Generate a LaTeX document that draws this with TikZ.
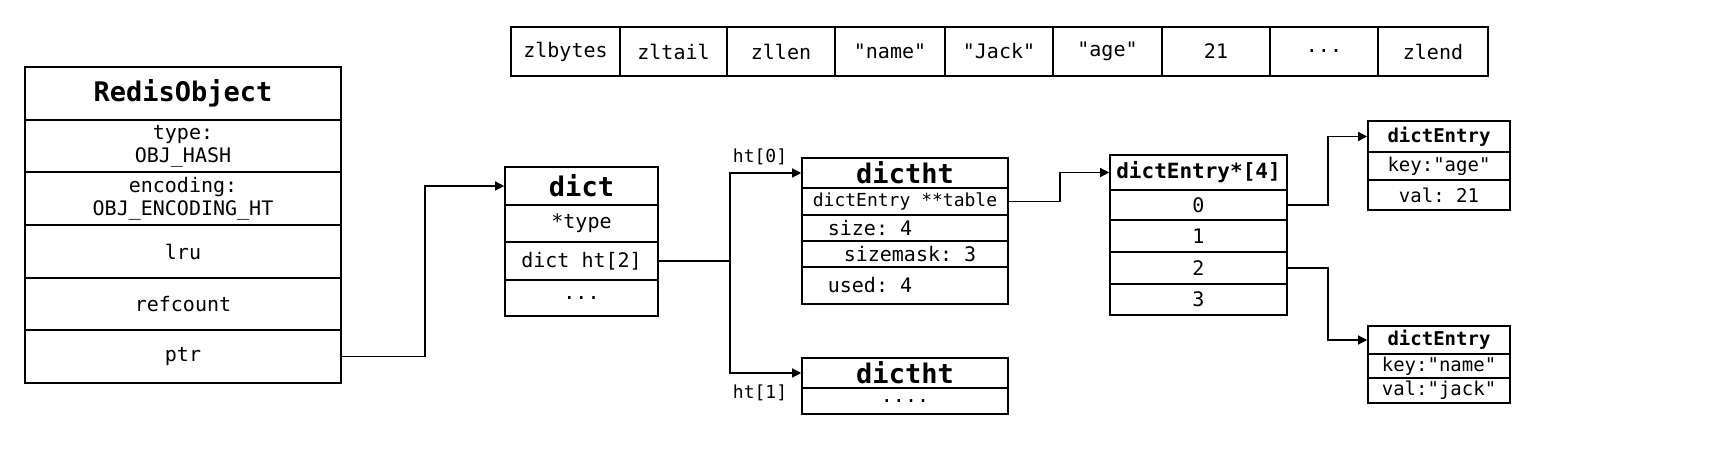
\documentclass[tikz,border=0pt]{standalone}
\usepackage{fontspec}
\setmonofont{DejaVu Sans Mono}
\usetikzlibrary{arrows.meta}
\newcommand{\cellbox}[6]{%
  \node[cell,minimum width={(#4-#2)*1pt},minimum height={(#5-#3)*1pt}] (#1) at ({(#2+#4)/2},{(#3+#5)/2}) {#6};}
\begin{document}
\begin{tikzpicture}[x=1pt,y=-1pt,
  cell/.style={draw,line width=1.6pt,inner sep=0pt,font=\ttfamily\fontsize{20}{23}\selectfont,align=center},
  link/.style={line width=1.3pt,-{Triangle[length=9pt,width=9pt]}},
  wire/.style={line width=1.3pt}]
\useasboundingbox (0,0) rectangle (1711,465);

% ziplist
\cellbox{z1}{511}{27}{620}{76}{zlbytes}
\cellbox{z2}{620}{27}{727}{76}{zltail}
\cellbox{z3}{727}{27}{835}{76}{zllen}
\cellbox{z4}{835}{27}{945}{76}{"name"}
\cellbox{z5}{945}{27}{1053}{76}{"Jack"}
\cellbox{z6}{1053}{27}{1162}{76}{"age"}
\cellbox{z7}{1162}{27}{1270}{76}{21}
\cellbox{z8}{1270}{27}{1378}{76}{...}
\cellbox{z9}{1378}{27}{1488}{76}{zlend}

% RedisObject
\cellbox{ro}{25}{67}{341}{120}{\fontsize{27}{29}\selectfont\bfseries RedisObject}
\cellbox{rtype}{25}{120}{341}{172}{type:\\OBJ\_HASH}
\cellbox{renc}{25}{172}{341}{225}{encoding:\\OBJ\_ENCODING\_HT}
\cellbox{rlru}{25}{225}{341}{278}{lru}
\cellbox{rref}{25}{278}{341}{330}{refcount}
\cellbox{rptr}{25}{330}{341}{383}{ptr}

% dict
\cellbox{d}{505}{167}{658}{205}{\fontsize{27}{29}\selectfont\bfseries dict}
\cellbox{dtype}{505}{205}{658}{242}{*type}
\cellbox{dht}{505}{242}{658}{280}{dict ht[2]}
\cellbox{ddots}{505}{280}{658}{316}{...}

% dictht 0
\cellbox{h0}{802}{158}{1008}{188}{\fontsize{27}{29}\selectfont\bfseries dictht}
\cellbox{htab}{802}{188}{1008}{215}{\fontsize{18}{20}\selectfont dictEntry **table}
\cellbox{hsize}{802}{215}{1008}{241}{size: 4\hspace{3.5em}}
\cellbox{hmask}{802}{241}{1008}{267}{\hspace{0.5em}sizemask: 3}
\cellbox{hused}{802}{267}{1008}{304}{used: 4\hspace{3.5em}}

% dictht 1
\cellbox{h1}{802}{358}{1008}{388}{\fontsize{27}{29}\selectfont\bfseries dictht}
\cellbox{h1dots}{802}{388}{1008}{414}{....}

% table
\cellbox{t}{1110}{155}{1287}{190}{\fontsize{21}{23}\selectfont\bfseries dictEntry*[4]}
\cellbox{t0}{1110}{190}{1287}{220}{0}
\cellbox{t1}{1110}{220}{1287}{252}{1}
\cellbox{t2}{1110}{252}{1287}{284}{2}
\cellbox{t3}{1110}{284}{1287}{315}{3}

% entries
\cellbox{ea}{1368}{121}{1510}{152}{\fontsize{19}{21}\selectfont\bfseries dictEntry}
\cellbox{eak}{1368}{152}{1510}{180}{\fontsize{19}{21}\selectfont key:"age"}
\cellbox{eav}{1368}{180}{1510}{210}{\fontsize{19}{21}\selectfont val: 21}
\cellbox{eb}{1368}{326}{1510}{354}{\fontsize{19}{21}\selectfont\bfseries dictEntry}
\cellbox{ebk}{1368}{354}{1510}{378}{\fontsize{19}{21}\selectfont key:"name"}
\cellbox{ebv}{1368}{378}{1510}{403}{\fontsize{19}{21}\selectfont val:"jack"}

% connectors
\coordinate (split) at (730,261);
\draw[link] (rptr.east) -- (rptr.east -| 425,0) |- (d.west);
\draw[wire] (dht.east) -- (split);
\draw[link] (split) |- (h0.west);
\draw[link] (split) |- (h1.west);
\node[font=\ttfamily\fontsize{18}{20}\selectfont] (lht0) at (760,157) {ht[0]};
\node[font=\ttfamily\fontsize{18}{20}\selectfont] (lht1) at (760,393) {ht[1]};
\draw[link] (htab.east) -- (htab.east -| 1060,0) |- (t.west);
\draw[link] (t0.east) -- (t0.east -| 1328,0) |- (ea.west);
\draw[link] (t2.east) -- (t2.east -| 1328,0) |- (eb.west);
\end{tikzpicture}
\end{document}
